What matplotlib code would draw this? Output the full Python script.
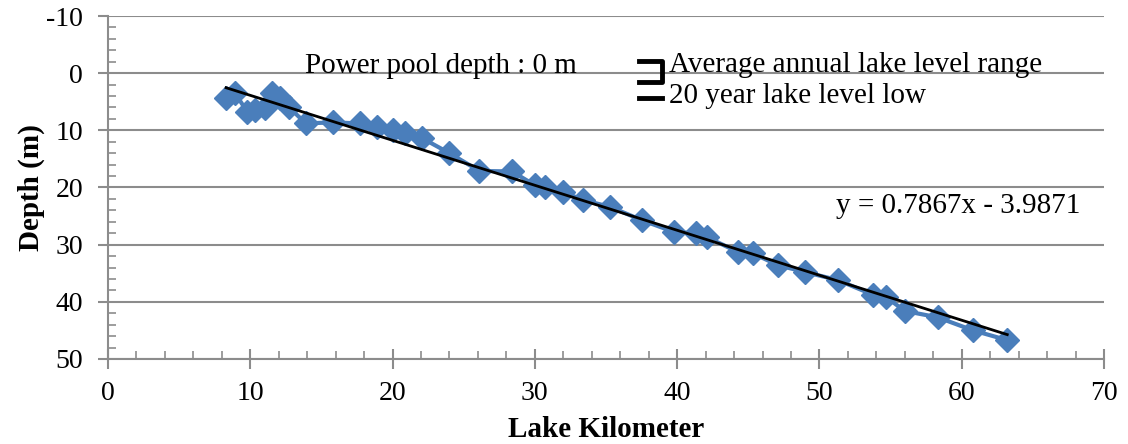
import matplotlib
matplotlib.use("Agg")
import matplotlib.pyplot as plt
import numpy as np
from matplotlib.ticker import MultipleLocator

plt.rcParams['font.family'] = ['Liberation Serif', 'DejaVu Serif']
plt.rcParams['axes.unicode_minus'] = False

lake_km = [8.3, 8.9, 9.8, 10.3, 11.0, 11.5, 12.1, 12.7, 13.9, 15.8, 17.7, 18.9,
           20.0, 20.9, 22.1, 24.0, 26.1, 28.4, 30.0, 30.7, 32.0, 33.4, 35.3, 37.5,
           39.8, 41.3, 42.1, 44.3, 45.3, 47.1, 49.0, 51.3, 53.8, 54.7, 56.0,
           58.3, 60.8, 63.2]
depth_m = [4.4, 3.4, 6.8, 6.5, 6.1, 3.5, 4.4, 5.9, 8.8, 8.6, 8.8, 9.4,
           10.0, 10.5, 11.4, 14.0, 17.1, 17.2, 19.6, 19.9, 20.8, 22.2, 23.4, 25.7,
           27.8, 28.0, 28.7, 31.3, 31.5, 33.6, 34.8, 36.2, 38.8, 39.2, 41.6,
           42.7, 45.0, 46.7]
slope, intercept = 0.7867, -3.9871
trend_label = "y = 0.7867x - 3.9871"
power_pool_label = "Power pool depth : 0 m"
range_label = "Average annual lake level range"
low_label = "20 year lake level low"
range_top, range_bottom = -2.15, 1.5
low_level = 4.4

blue = '#4A7EBB'
grid_c = '#8C8C8C'

fig = plt.figure(figsize=(11.28, 4.44), dpi=100)
ax = fig.add_axes([108/1128, 1-359/444, (1104-108)/1128, (359-16)/444])

ax.plot(lake_km, depth_m, color=blue, lw=3, marker='D', ms=12.5, mfc=blue, mec=blue, zorder=3)
xs = np.array([min(lake_km), max(lake_km)])
ax.plot(xs, slope*xs + intercept, color='black', lw=2, zorder=4)

ax.set_xlim(0, 70)
ax.set_ylim(50, -10)
ax.xaxis.set_major_locator(MultipleLocator(10))
ax.xaxis.set_minor_locator(MultipleLocator(2))
ax.yaxis.set_major_locator(MultipleLocator(10))
ax.yaxis.set_minor_locator(MultipleLocator(2))

ax.grid(axis='y', which='major', color=grid_c, lw=1.5, zorder=0)
for s in ['top', 'right']:
    ax.spines[s].set_visible(False)
for s in ['left', 'bottom']:
    ax.spines[s].set_color(grid_c)
    ax.spines[s].set_linewidth(1.5)

ax.tick_params(axis='x', which='major', direction='inout', length=14, width=1.5, color=grid_c, labelsize=20, pad=9)
ax.tick_params(axis='x', which='minor', direction='in', length=6, width=1.2, color=grid_c)
ax.tick_params(axis='y', which='major', direction='out', length=7, width=1.5, color=grid_c, labelsize=20, pad=11)
ax.tick_params(axis='y', which='minor', direction='in', length=6, width=1.2, color=grid_c)

ax.set_xlabel('Lake Kilometer', fontsize=21, fontweight='bold', labelpad=7)
ax.set_ylabel('Depth (m)', fontsize=21, fontweight='bold', labelpad=1)

ax.text((305-108)/14.23, 0.0, power_pool_label, fontsize=21, va='baseline', ha='left')
ax.text((836-108)/14.23, 24.4, trend_label, fontsize=21, va='baseline', ha='left')

# legend-like annotations
bx0, bx1 = (639-108)/14.23, (662-108)/14.23
ax.plot([bx0, bx1, bx1, bx0], [range_top, range_top, range_bottom, range_bottom],
        color='black', lw=3.5, solid_joinstyle='round', clip_on=False)
ax.plot([bx0, bx1], [low_level, low_level], color='black', lw=3.5, clip_on=False)
ax.text((669-108)/14.23, -0.2, range_label, fontsize=21, va='baseline', ha='left')
ax.text((669-108)/14.23, 5.25, low_label, fontsize=21, va='baseline', ha='left')

fig.savefig('out.png', dpi=100)
